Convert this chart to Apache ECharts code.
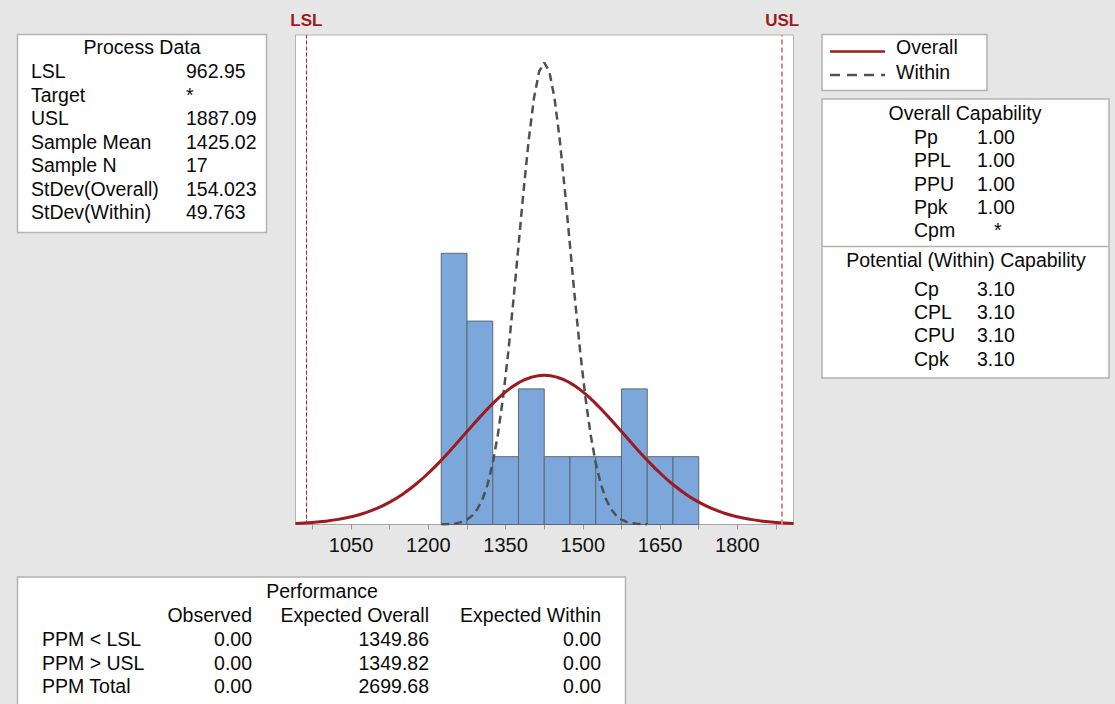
<!DOCTYPE html>
<html>
<head>
<meta charset="utf-8">
<title>Process Capability Report</title>
<script src="https://cdn.jsdelivr.net/npm/echarts@6/dist/echarts.min.js"></script>
<style>
html, body { margin: 0; padding: 0; background: #e6e6e6; }
#chart { width: 1115px; height: 704px; }
</style>
</head>
<body>
<div id="chart"></div>
<script>
// histogram bins (lower edge) and counts
var binStarts = [1225, 1275, 1325, 1375, 1425, 1475, 1525, 1575, 1625, 1675];
var binWidth = 50;
var counts = [4, 3, 1, 2, 1, 1, 1, 2, 1, 1];

// spec limits
var LSL = 962.95;
var USL = 1887.09;

// overall curve (in counts)
var overallX = [942, 950, 975, 1000, 1025, 1050, 1075, 1100, 1125, 1150, 1175, 1200, 1225, 1250, 1275, 1300, 1325, 1350, 1375, 1400,
	1425, 1450, 1475, 1500, 1525, 1550, 1575, 1600, 1625, 1650, 1675, 1700, 1725, 1750, 1775, 1800, 1825, 1850, 1875, 1900, 1909];
var overallY = [0.0161, 0.0189, 0.0308, 0.0489, 0.0755, 0.1136, 0.1665, 0.2376, 0.3303, 0.4472, 0.5897, 0.7575, 0.9476, 1.1546, 1.3702, 1.5839, 1.7833, 1.9555, 2.0886, 2.1728,
	2.2016, 2.1728, 2.0886, 1.9555, 1.7833, 1.5839, 1.3702, 1.1546, 0.9476, 0.7575, 0.5897, 0.4472, 0.3303, 0.2376, 0.1665, 0.1136, 0.0755, 0.0489, 0.0308, 0.0189, 0.0158];

// within curve
var withinX = [1225, 1235, 1245, 1255, 1265, 1275, 1285, 1295, 1305, 1315, 1325, 1335, 1345, 1355, 1365, 1375, 1385, 1395, 1405, 1415,
	1425, 1435, 1445, 1455, 1465, 1475, 1485, 1495, 1505, 1515, 1525, 1535, 1545, 1555, 1565, 1575, 1585, 1595, 1605, 1615, 1625];
var withinY = [0.0021, 0.0047, 0.0098, 0.0199, 0.0388, 0.0725, 0.1302, 0.2247, 0.3722, 0.5922, 0.9048, 1.3279, 1.8716, 2.5337, 3.2941, 4.1135, 4.9332, 5.6821, 6.2857, 6.6782,
	6.8144, 6.6782, 6.2857, 5.6821, 4.9332, 4.1135, 3.2941, 2.5337, 1.8716, 1.3279, 0.9048, 0.5922, 0.3722, 0.2247, 0.1302, 0.0725, 0.0388, 0.0199, 0.0098, 0.0047, 0.0021];

// axis ticks / labels
var tickValues = [975, 1050, 1125, 1200, 1275, 1350, 1425, 1500, 1575, 1650, 1725, 1800, 1875];
var labelValues = [1050, 1200, 1350, 1500, 1650, 1800];

// text tables
var processLabels = ['LSL', 'Target', 'USL', 'Sample Mean', 'Sample N', 'StDev(Overall)', 'StDev(Within)'];
var processValues = ['962.95', '*', '1887.09', '1425.02', '17', '154.023', '49.763'];
var overallCapLabels = ['Pp', 'PPL', 'PPU', 'Ppk', 'Cpm'];
var overallCapValues = ['1.00', '1.00', '1.00', '1.00', '*'];
var withinCapLabels = ['Cp', 'CPL', 'CPU', 'Cpk'];
var withinCapValues = ['3.10', '3.10', '3.10', '3.10'];
var perfHeaders = ['Observed', 'Expected Overall', 'Expected Within'];
var perfLabels = ['PPM < LSL', 'PPM > USL', 'PPM Total'];
var perfObserved = ['0.00', '0.00', '0.00'];
var perfOverall = ['1349.86', '1349.82', '2699.68'];
var perfWithin = ['0.00', '0.00', '0.00'];

var FAMILY = '"Liberation Sans", Arial, sans-serif';
var FONT = '19.5px ' + FAMILY;
var txtColor = '#0a0a0a';
var boxBorder = '#b3b3b3';
var red = '#9b1b1f';

function zip(a, b) {
	var out = [];
	for (var i = 0; i < a.length; i++) out.push([a[i], b[i]]);
	return out;
}

var histData = [];
for (var i = 0; i < binStarts.length; i++) {
	histData.push([binStarts[i], binStarts[i] + binWidth, counts[i]]);
}

var g = [];
function box(x, y, w, h) {
	g.push({ type: 'rect', shape: { x: x, y: y, width: w, height: h }, style: { fill: '#fff', stroke: boxBorder, lineWidth: 1.5 }, z: 10 });
}
function txt(x, y, s, align) {
	g.push({
		type: 'text', x: x, y: y, z: 11,
		style: { text: s, font: FONT, fill: txtColor, align: align || 'left', verticalAlign: 'middle', textAlign: align || 'left', textVerticalAlign: 'middle' }
	});
}
function hline(x1, x2, y, color, width, dash) {
	g.push({ type: 'line', z: 11, shape: { x1: x1, y1: y, x2: x2, y2: y }, style: { stroke: color, lineWidth: width, lineDash: dash || null } });
}

// Process Data
box(17.5, 34.5, 249, 198);
txt(142, 47, 'Process Data', 'center');
for (var i = 0; i < processLabels.length; i++) {
	txt(31, 71 + i * 23.5, processLabels[i]);
	txt(186, 71 + i * 23.5, processValues[i]);
}

// legend
box(822, 34.5, 165, 56);
hline(830, 885, 51.5, red, 2.5);
hline(830, 885, 75, '#555', 2.5, [10, 7]);
txt(896, 47, 'Overall');
txt(896, 72, 'Within');

// capability
box(822, 99, 287, 279);
hline(822, 1109, 246.5, boxBorder, 1.5);
txt(965, 113, 'Overall Capability', 'center');
for (var i = 0; i < overallCapLabels.length; i++) {
	txt(914, 137 + i * 23.3, overallCapLabels[i]);
	txt(overallCapValues[i] === '*' ? 994 : 977, 137 + i * 23.3, overallCapValues[i]);
}
txt(966, 260, 'Potential (Within) Capability', 'center');
for (var i = 0; i < withinCapLabels.length; i++) {
	txt(914, 289 + i * 23.2, withinCapLabels[i]);
	txt(977, 289 + i * 23.2, withinCapValues[i]);
}

// performance
box(17.5, 577, 608, 140);
txt(322, 591, 'Performance', 'center');
var colRight = [252, 429, 601];
for (var c = 0; c < perfHeaders.length; c++) txt(colRight[c], 615, perfHeaders[c], 'right');
for (var i = 0; i < perfLabels.length; i++) {
	var yy = 639 + i * 23.5;
	txt(42, yy, perfLabels[i]);
	txt(colRight[0], yy, perfObserved[i], 'right');
	txt(colRight[1], yy, perfOverall[i], 'right');
	txt(colRight[2], yy, perfWithin[i], 'right');
}

var option = {
	backgroundColor: '#e6e6e6',
	animation: false,
	grid: {
		show: true,
		left: 295.5,
		top: 35,
		width: 498,
		height: 489.5,
		backgroundColor: '#fff',
		borderColor: '#b4b4b4',
		borderWidth: 1
	},
	xAxis: {
		type: 'value',
		min: 942,
		max: 1909,
		axisLine: { show: true, onZero: false, lineStyle: { color: '#a8a8a8', width: 1 } },
		axisTick: { show: true, customValues: tickValues, length: 5, lineStyle: { color: '#999' } },
		axisLabel: {
			customValues: labelValues,
			margin: 10,
			color: '#111',
			fontSize: 20,
			fontFamily: FAMILY,
			formatter: function(v) { return String(v); }
		},
		splitLine: { show: false }
	},
	yAxis: {
		type: 'value',
		min: 0,
		max: 7.22,
		show: false
	},
	series: [{
		name: 'Histogram',
		type: 'custom',
		data: histData,
		encode: { x: [0, 1], y: 2 },
		renderItem: function(params, api) {
			var p0 = api.coord([api.value(0), 0]);
			var p1 = api.coord([api.value(1), api.value(2)]);
			return {
				type: 'rect',
				shape: { x: p0[0], y: p1[1], width: p1[0] - p0[0], height: p0[1] - p1[1] },
				style: { fill: '#7ba7da', stroke: '#5f6772', lineWidth: 1 }
			};
		},
		z: 2
	}, {
		name: 'Overall',
		type: 'line',
		data: zip(overallX, overallY),
		smooth: true,
		showSymbol: false,
		lineStyle: { color: red, width: 3 },
		z: 4,
		markLine: {
			silent: true,
			symbol: 'none',
			label: {
				show: true,
				position: 'end',
				distance: 6,
				color: red,
				fontSize: 17,
				fontWeight: 'bold',
				fontFamily: FAMILY,
				formatter: function(p) { return p.name; }
			},
			data: [
				{ name: 'LSL', xAxis: LSL, lineStyle: { color: '#c8141e', width: 1, type: [4, 2] } },
				{ name: 'USL', xAxis: USL, lineStyle: { color: '#e8808a', width: 2, type: [5, 3] } }
			]
		}
	}, {
		name: 'Within',
		type: 'line',
		data: zip(withinX, withinY),
		showSymbol: false,
		lineStyle: { color: '#505050', width: 2.5, type: [8, 5] },
		z: 3
	}],
	graphic: { elements: g }
};

var chart = echarts.init(document.getElementById('chart'), null, { renderer: 'svg' });
chart.setOption(option);
</script>
</body>
</html>
